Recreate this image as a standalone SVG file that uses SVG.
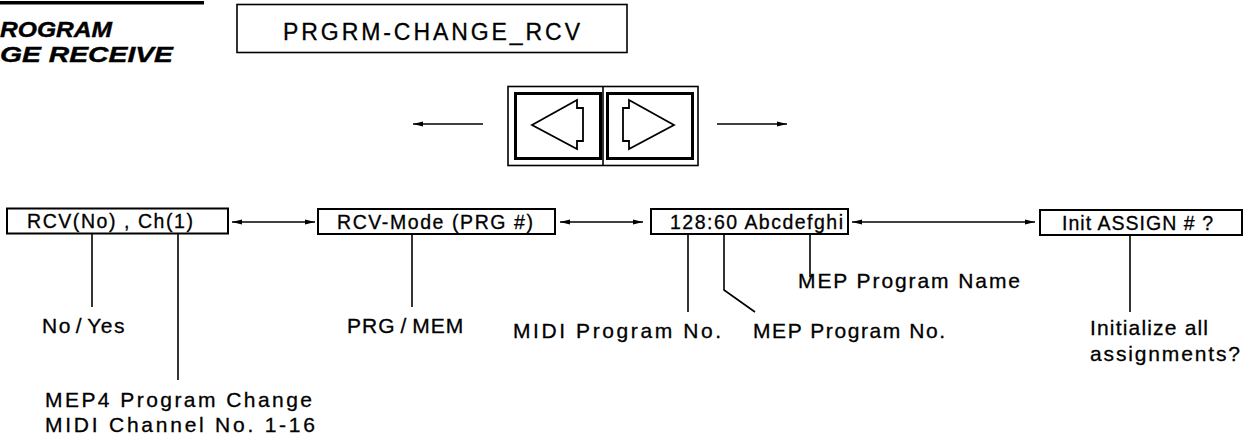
<svg xmlns="http://www.w3.org/2000/svg" width="1249" height="439" viewBox="0 0 1249 439">
<style>
text{font-family:"Liberation Sans",Arial,sans-serif;fill:#000;stroke:#000;stroke-width:0.3}
.lbl{font-size:21px}
.nt{font-size:19.5px}
.node rect{fill:#fff;stroke:#000;stroke-width:2}
.ln{stroke:#000;stroke-width:1.6;fill:none}
.title{font-size:22px;font-weight:bold;font-style:italic;stroke-width:0.4}
</style>
<defs>
<marker id="ah" viewBox="0 0 10 6" refX="10" refY="3" markerWidth="10" markerHeight="6" markerUnits="userSpaceOnUse" orient="auto-start-reverse">
<path d="M0,0.6 L10,3 L0,5.4 z" fill="#000"/>
</marker>
</defs>
<rect x="0" y="1" width="204" height="3.5" fill="#000"/>
<text class="title" x="0" y="37" textLength="112" lengthAdjust="spacingAndGlyphs">ROGRAM</text>
<text class="title" x="0" y="62" textLength="173" lengthAdjust="spacingAndGlyphs">GE RECEIVE</text>

<g id="header">
<rect x="237" y="4.5" width="390" height="48" fill="#fff" stroke="#000" stroke-width="1.6"/>
<text x="283" y="40" font-size="23" textLength="297" lengthAdjust="spacing">PRGRM-CHANGE_RCV</text>
</g>

<g id="buttons">
<rect x="508" y="86.5" width="190" height="79" fill="#fff" stroke="#000" stroke-width="1.6"/>
<line x1="603" y1="86.5" x2="603" y2="165.5" stroke="#000" stroke-width="1.6"/>
<rect x="515.5" y="93.5" width="85" height="65" fill="none" stroke="#000" stroke-width="3"/>
<rect x="607.5" y="93.5" width="85" height="65" fill="none" stroke="#000" stroke-width="3"/>
<path d="M532,125 L577,100 L577,108 L583,108 L583,141 L577,141 L577,149 Z" fill="none" stroke="#000" stroke-width="1.8" stroke-linejoin="miter"/>
<path d="M674,125 L629,100 L629,108 L623,108 L623,141 L629,141 L629,149 Z" fill="none" stroke="#000" stroke-width="1.8" stroke-linejoin="miter"/>
</g>

<g id="n1" class="node">
<rect x="7" y="208.5" width="221" height="25"/>
<text class="nt" x="27" y="228" textLength="166" lengthAdjust="spacing">RCV(No) , Ch(1)</text>
</g>
<g id="n2" class="node">
<rect x="318" y="209" width="237" height="25"/>
<text class="nt" x="337" y="228.5" textLength="196" lengthAdjust="spacing">RCV-Mode (PRG #)</text>
</g>
<g id="n3" class="node">
<rect x="651" y="209" width="197" height="25"/>
<text class="nt" x="670" y="228.5" textLength="173" lengthAdjust="spacing">128:60 Abcdefghi</text>
</g>
<g id="n4" class="node">
<rect x="1040" y="210" width="202" height="25"/>
<text class="nt" x="1062" y="229.5" textLength="151" lengthAdjust="spacing">Init ASSIGN # ?</text>
</g>

<g id="connectors">
<line class="ln" x1="483" y1="124" x2="413" y2="124" marker-end="url(#ah)"/>
<line class="ln" x1="717" y1="124" x2="787" y2="124" marker-end="url(#ah)"/>
<line class="ln" x1="232" y1="222" x2="315" y2="222" marker-start="url(#ah)" marker-end="url(#ah)"/>
<line class="ln" x1="560" y1="222" x2="643" y2="222" marker-start="url(#ah)" marker-end="url(#ah)"/>
<line class="ln" x1="852" y1="222" x2="1035" y2="222" marker-start="url(#ah)" marker-end="url(#ah)"/>
<line class="ln" x1="92" y1="233" x2="92" y2="307"/>
<line class="ln" x1="178" y1="233" x2="178" y2="380"/>
<line class="ln" x1="412" y1="234" x2="412" y2="307"/>
<line class="ln" x1="688" y1="234" x2="688" y2="312"/>
<polyline class="ln" points="724,234 724,290 755,312"/>
<line class="ln" x1="810" y1="234" x2="810" y2="277"/>
<line class="ln" x1="1130" y1="235" x2="1130" y2="312"/>
</g>

<g id="labels">
<text class="lbl" x="42" y="333" letter-spacing="1.5">No<tspan dx="4">/</tspan><tspan dx="4">Yes</tspan></text>
<text class="lbl" x="347" y="333" letter-spacing="1">PRG<tspan dx="5">/</tspan><tspan dx="5">MEM</tspan></text>
<text class="lbl" x="513" y="338" textLength="208" lengthAdjust="spacing">MIDI Program No.</text>
<text class="lbl" x="753" y="338" textLength="192" lengthAdjust="spacing">MEP Program No.</text>
<text class="lbl" x="798" y="288" textLength="222" lengthAdjust="spacing">MEP Program Name</text>
<text class="lbl" x="1090" y="335" textLength="118" lengthAdjust="spacing">Initialize all</text>
<text class="lbl" x="1090" y="361" textLength="150" lengthAdjust="spacing">assignments?</text>
<text class="lbl" x="45" y="407" textLength="267" lengthAdjust="spacing">MEP4 Program Change</text>
<text class="lbl" x="45" y="432" textLength="270" lengthAdjust="spacing">MIDI Channel No. 1-16</text>
</g>
</svg>
